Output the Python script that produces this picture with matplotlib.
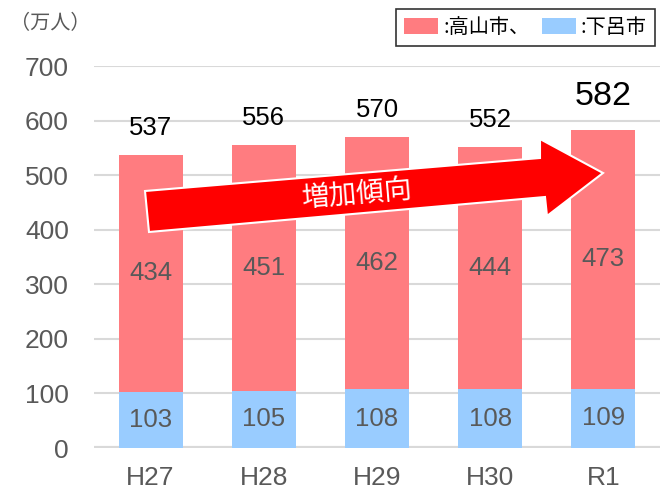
import matplotlib
matplotlib.use("Agg")
import matplotlib.pyplot as plt
from matplotlib.patches import Polygon, Patch
import numpy as np

categories = ["H27", "H28", "H29", "H30", "R1"]
gero = [103, 105, 108, 108, 109]
takayama = [434, 451, 462, 444, 473]
totals = [537, 556, 570, 552, 582]
yticks = [0, 100, 200, 300, 400, 500, 600, 700]

FONT = ["Liberation Sans", "Noto Sans CJK JP", "DejaVu Sans"]
JP = ["Noto Sans CJK JP", "DejaVu Sans"]
plt.rcParams["font.family"] = FONT

W, H = 665, 491
fig = plt.figure(figsize=(W / 100, H / 100), dpi=100)
ax = fig.add_axes([94 / W, 1 - 448 / H, (660 - 94) / W, (448 - 66) / H])

x = np.arange(len(categories))
red = "#FF7C80"
blue = "#99CCFF"
bw = 0.565
ax.bar(x, gero, bw, color=blue, zorder=3)
ax.bar(x, takayama, bw, bottom=gero, color=red, zorder=3)

ax.set_xlim(-0.5, len(categories) - 0.5)
ax.set_ylim(0, 700)
ax.set_yticks(yticks)
ax.set_yticklabels([str(v) for v in yticks], fontsize=19, color="#595959")
ax.set_xticks(x)
ax.set_xticklabels(categories, fontsize=19, color="#595959")
ax.tick_params(length=0)
ax.tick_params(axis="y", pad=18)
ax.tick_params(axis="x", pad=13)
for s in ax.spines.values():
    s.set_visible(False)
ax.grid(axis="y", color="#D9D9D9", lw=1.5, zorder=0)
ax.axhline(0, color="#D9D9D9", lw=3, zorder=2)

for i in range(len(categories)):
    ax.text(x[i], gero[i] / 2, str(gero[i]), ha="center", va="center",
            fontsize=18.5, color="#595959", zorder=4)
    ax.text(x[i], gero[i] + takayama[i] / 2, str(takayama[i]), ha="center",
            va="center", fontsize=18.5, color="#595959", zorder=4)
    big = i == len(categories) - 1
    ax.text(x[i], totals[i] + (62 if big else 49), str(totals[i]), ha="center",
            va="center", fontsize=24.5 if big else 18.5, color="black", zorder=4)

# unit label
fig.text(10 / W, 1 - 24 / H, "（万人）", fontsize=14.5, color="#595959",
         family=JP, ha="left", va="center")

# legend
leg = fig.legend(handles=[Patch(facecolor=red, label=":高山市、"),
                          Patch(facecolor=blue, label=":下呂市")],
                 loc="upper right", bbox_to_anchor=(655 / W, 1 - 9 / H),
                 ncol=2, frameon=True, fancybox=False, edgecolor="black",
                 prop={"family": JP, "size": 14.5},
                 handlelength=1.7, handleheight=0.8, handletextpad=0.25,
                 columnspacing=0.6, borderpad=0.4, borderaxespad=0)
leg.get_frame().set_linewidth(1.2)

# trend arrow (pixel coordinates)
pts = [(145, 191), (540, 158), (540, 139), (603, 173), (547, 216),
       (545, 197), (149, 232)]
poly = Polygon([(px / W, 1 - py / H) for px, py in pts], closed=True,
               transform=fig.transFigure, facecolor="#FF0000",
               edgecolor="white", lw=1.5, zorder=10)
fig.patches.append(poly)
fig.text(356 / W, 1 - 195 / H, "増加傾向", rotation=4.8, fontsize=20,
         color="white", family=JP, ha="center", va="center", zorder=11)

fig.savefig("out.png", dpi=100)
